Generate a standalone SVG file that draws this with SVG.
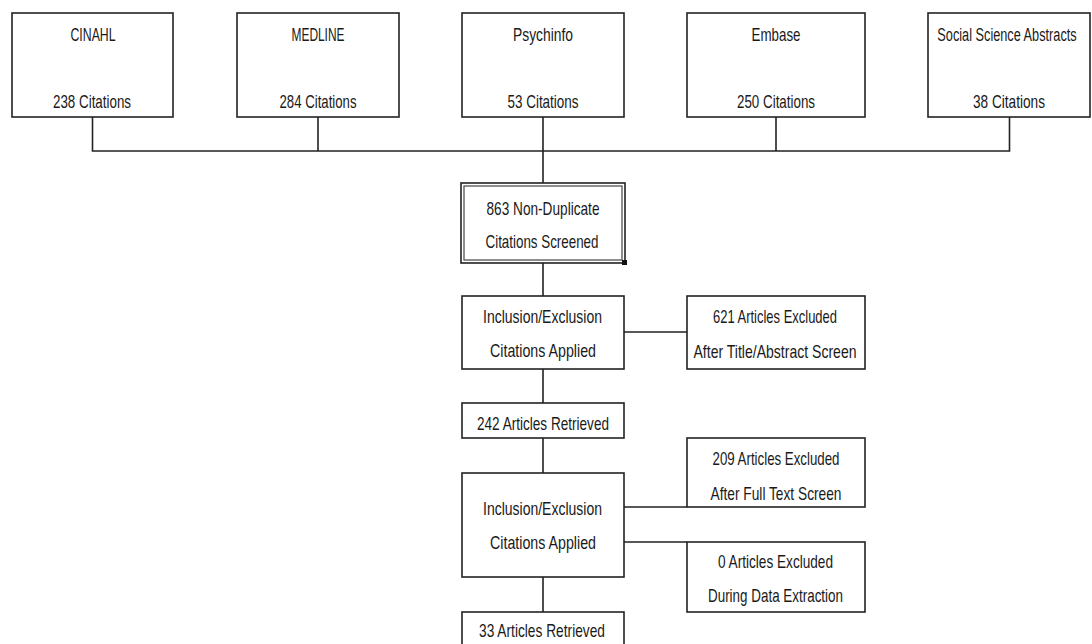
<svg xmlns="http://www.w3.org/2000/svg" width="1092" height="644" viewBox="0 0 1092 644">
<style>
.box{fill:#fff;stroke:#222;stroke-width:1.6}
.dbl{fill:none;stroke:#444;stroke-width:1.2}
.ln{fill:none;stroke:#222;stroke-width:1.6}
text{font-family:"Liberation Sans",Arial,sans-serif;font-size:19px;fill:#1a1a1a;text-anchor:middle}
</style>
<rect width="1092" height="644" fill="#fff"/>
<g id="connectors">
<path class="ln" d="M92.5 117V151H1009.5V117M318 117V151M543 117V183M776 117V151"/>
<path class="ln" d="M543 263V296M543 369V403M543 438V473M543 577V612"/>
<path class="ln" d="M624 332H687M624 507H687M624 542H687"/>
</g>
<g id="cinahl">
<rect class="box" x="12" y="13" width="161" height="104"/>
<text x="93" y="41" textLength="45" lengthAdjust="spacingAndGlyphs">CINAHL</text>
<text x="92" y="108" textLength="78" lengthAdjust="spacingAndGlyphs">238 Citations</text>
</g>
<g id="medline">
<rect class="box" x="237" y="13" width="162" height="104"/>
<text x="318" y="41" textLength="53" lengthAdjust="spacingAndGlyphs">MEDLINE</text>
<text x="318" y="108" textLength="77" lengthAdjust="spacingAndGlyphs">284 Citations</text>
</g>
<g id="psychinfo">
<rect class="box" x="462" y="13" width="162" height="104"/>
<text x="543" y="41" textLength="60" lengthAdjust="spacingAndGlyphs">Psychinfo</text>
<text x="543" y="108" textLength="71" lengthAdjust="spacingAndGlyphs">53 Citations</text>
</g>
<g id="embase">
<rect class="box" x="687" y="13" width="178" height="104"/>
<text x="776" y="41" textLength="49" lengthAdjust="spacingAndGlyphs">Embase</text>
<text x="776" y="108" textLength="78" lengthAdjust="spacingAndGlyphs">250 Citations</text>
</g>
<g id="ssa">
<rect class="box" x="928" y="13" width="162" height="104"/>
<text transform="translate(1007 41) scale(0.67 1)" x="0" y="0">Social Science Abstracts</text>
<text x="1009" y="108" textLength="72" lengthAdjust="spacingAndGlyphs">38 Citations</text>
</g>
<g id="screened">
<rect class="box" x="461" y="183" width="164" height="80"/>
<rect class="dbl" x="464" y="186" width="158" height="74"/>
<rect x="622" y="260" width="5" height="5" fill="#111"/>
<text x="543" y="215" textLength="113" lengthAdjust="spacingAndGlyphs">863 Non-Duplicate</text>
<text x="542" y="248" textLength="113" lengthAdjust="spacingAndGlyphs">Citations Screened</text>
</g>
<g id="incl1">
<rect class="box" x="462" y="296" width="162" height="73"/>
<text x="542.5" y="323" textLength="119" lengthAdjust="spacingAndGlyphs">Inclusion/Exclusion</text>
<text x="543" y="357" textLength="106" lengthAdjust="spacingAndGlyphs">Citations Applied</text>
</g>
<g id="excl1">
<rect class="box" x="687" y="296" width="178" height="73"/>
<text x="775" y="323" textLength="124" lengthAdjust="spacingAndGlyphs">621 Articles Excluded</text>
<text x="775" y="358" textLength="163" lengthAdjust="spacingAndGlyphs">After Title/Abstract Screen</text>
</g>
<g id="retr1">
<rect class="box" x="462" y="403" width="162" height="35"/>
<text x="543" y="430" textLength="132" lengthAdjust="spacingAndGlyphs">242 Articles Retrieved</text>
</g>
<g id="excl2">
<rect class="box" x="687" y="438" width="178" height="69"/>
<text x="776" y="465" textLength="127" lengthAdjust="spacingAndGlyphs">209 Articles Excluded</text>
<text x="776" y="500" textLength="131" lengthAdjust="spacingAndGlyphs">After Full Text Screen</text>
</g>
<g id="incl2">
<rect class="box" x="462" y="473" width="162" height="104"/>
<text x="542.5" y="515" textLength="119" lengthAdjust="spacingAndGlyphs">Inclusion/Exclusion</text>
<text x="543" y="549" textLength="106" lengthAdjust="spacingAndGlyphs">Citations Applied</text>
</g>
<g id="excl3">
<rect class="box" x="687" y="542" width="178" height="70"/>
<text x="775.5" y="568" textLength="115" lengthAdjust="spacingAndGlyphs">0 Articles Excluded</text>
<text x="775.5" y="602" textLength="135" lengthAdjust="spacingAndGlyphs">During Data Extraction</text>
</g>
<g id="retr2">
<rect class="box" x="462" y="612" width="162" height="40"/>
<text x="542" y="637" textLength="126" lengthAdjust="spacingAndGlyphs">33 Articles Retrieved</text>
</g>
</svg>
